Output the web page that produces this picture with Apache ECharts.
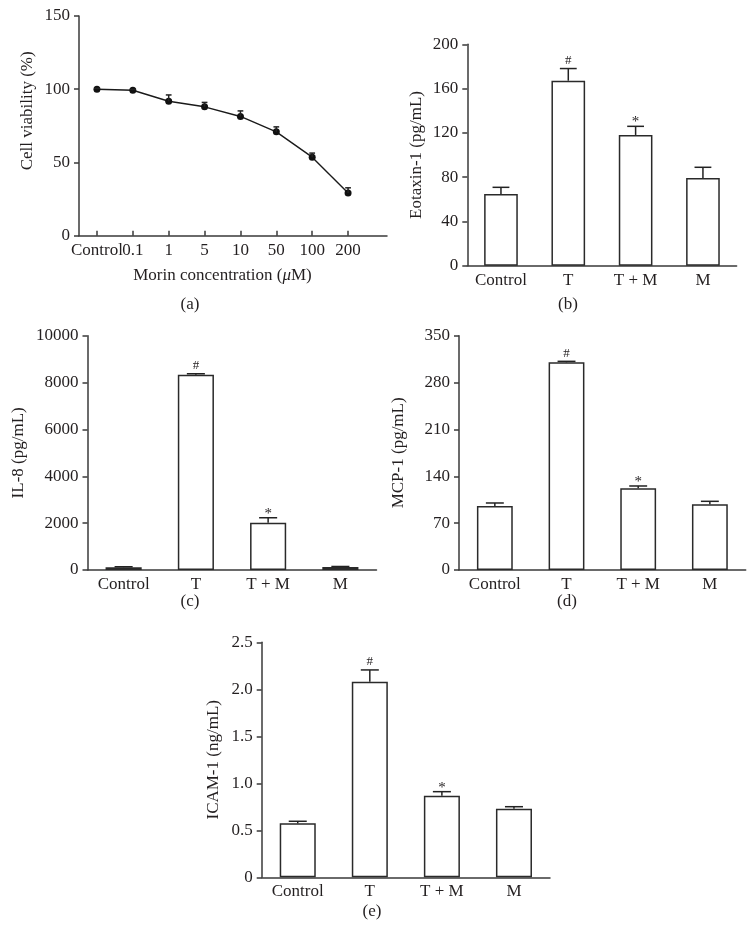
<!DOCTYPE html>
<html>
<head>
<meta charset="utf-8">
<script src="https://cdn.jsdelivr.net/npm/echarts/dist/echarts.min.js"></script>
<style>
html,body{margin:0;padding:0;background:#fff;}
#chart{width:756px;height:937px;}
</style>
</head>
<body>
<div id="chart"></div>
<script>
// ---------- data ----------
const doseLabels = ['Control', '0.1', '1', '5', '10', '50', '100', '200'];
const viability = [100, 99.3, 91.8, 88.0, 81.4, 70.9, 53.6, 29.1];
const viabilityErr = [0.6, 0.6, 4.3, 3.0, 3.8, 3.4, 2.8, 3.6];

const groups = ['Control', 'T', 'T + M', 'M'];
const signif = ['', '#', '*', ''];

const eotaxin = [64.8, 167.1, 118.1, 79.2];
const eotaxinErr = [6.0, 11.0, 7.8, 9.7];

const il8 = [120, 8335, 2020, 130];
const il8Err = [20, 40, 210, 20];

const mcp1 = [95.6, 310.2, 122.0, 98.1];
const mcp1Err = [4.5, 1.5, 3.5, 4.5];

const icam = [0.574, 2.081, 0.868, 0.730];
const icamErr = [0.022, 0.125, 0.043, 0.021];

const ticksA = {min: 0, max: 150, interval: 50};
const ticksB = {min: 0, max: 200, interval: 40};
const ticksC = {min: 0, max: 10000, interval: 2000};
const ticksD = {min: 0, max: 350, interval: 70};
const ticksE = {min: 0, max: 2.5, interval: 0.5};

// ---------- styles ----------
const FONT = '"Liberation Serif", "DejaVu Serif", serif';
const FS = 17;
const TXT = '#231f20';
const AX = '#3a3a3a';

const chart = echarts.init(document.getElementById('chart'), null, {renderer: 'canvas'});

function gridBox(left, top, width, height) {
  return {left, top, width, height, containLabel: false, outerBoundsMode: 'none'};
}

const plainFmt = v => String(v);

function yAxisCfg(gi, ticks, name, gap, fmt, pad) {
  return {
    type: 'value', gridIndex: gi, min: ticks.min, max: ticks.max, interval: ticks.interval,
    name: name, nameLocation: 'middle', nameGap: gap,
    nameTextStyle: {fontFamily: FONT, fontSize: FS, color: TXT, padding: pad || 0},
    axisLine: {show: true, lineStyle: {color: AX, width: 1.5}},
    axisTick: {show: true, inside: false, length: 5, lineStyle: {color: AX, width: 1.5}},
    axisLabel: {fontFamily: FONT, fontSize: FS, color: TXT, margin: 9, formatter: fmt || plainFmt},
    splitLine: {show: false}
  };
}

function xCatAxis(gi, cats, ticks) {
  return {
    type: 'category', gridIndex: gi, data: cats, boundaryGap: true,
    axisLine: {show: true, lineStyle: {color: AX, width: 1.5}},
    axisTick: {show: !!ticks, inside: true, length: 5, alignWithLabel: true, lineStyle: {color: AX, width: 1.5}},
    axisLabel: {fontFamily: FONT, fontSize: FS, color: TXT, margin: 6, interval: 0},
    splitLine: {show: false}
  };
}

function errSeries(xi, yi, means, errs, capFrac, marks) {
  return {
    type: 'custom', xAxisIndex: xi, yAxisIndex: yi, z: 5,
    data: means.map((m, i) => [i, m, errs[i]]),
    renderItem: function (params, api) {
      const i = api.value(0), m = api.value(1), e = api.value(2);
      const base = api.coord([i, m]);
      const top = api.coord([i, m + e]);
      const half = api.size([1, 0])[0] * capFrac / 2;
      const children = [
        {type: 'line', shape: {x1: base[0], y1: base[1], x2: top[0], y2: top[1]},
         style: {stroke: '#222', lineWidth: 1.5}},
        {type: 'line', shape: {x1: top[0] - half, y1: top[1], x2: top[0] + half, y2: top[1]},
         style: {stroke: '#222', lineWidth: 1.5}}
      ];
      const mk = marks ? marks[params.dataIndex] : '';
      if (mk) {
        children.push({type: 'text', style: {
          text: mk, x: top[0], y: top[1] - (mk === '#' ? 8 : 4),
          align: 'center', verticalAlign: 'middle',
          font: (mk === '#' ? '13px ' : '15px ') + FONT, fill: TXT
        }});
      }
      return {type: 'group', children};
    }
  };
}

function barSeries(xi, yi, vals) {
  return {
    type: 'bar', xAxisIndex: xi, yAxisIndex: yi, data: vals, barWidth: '50%',
    itemStyle: {color: '#fff', borderColor: '#2a2a2a', borderWidth: 1.5},
    silent: true, animation: false
  };
}

const icamFmt = v => (v === 0 ? '0' : v.toFixed(1));

const option = {
  animation: false,
  backgroundColor: '#fff',
  textStyle: {fontFamily: FONT},
  grid: [
    gridBox(79, 16, 287, 219.7),     // a
    gridBox(79, 16, 308, 219.7),     // a axis extension
    gridBox(467.3, 44.3, 269.3, 221.4), // b
    gridBox(87.5, 335.7, 289, 234.3),   // c
    gridBox(459, 335.7, 286.7, 234.3),  // d
    gridBox(261.7, 642.3, 288.3, 235)   // e
  ],
  xAxis: [
    Object.assign(xCatAxis(0, doseLabels, true), {
      axisLine: {show: false},
      name: '{n|Morin concentration (}{i|μ}{n|M)}', nameLocation: 'middle', nameGap: 31,
      nameTextStyle: {rich: {
        n: {fontFamily: FONT, fontSize: FS, color: TXT},
        i: {fontFamily: FONT, fontSize: FS, color: TXT, fontStyle: 'italic'}
      }}
    }),
    {type: 'value', gridIndex: 1, min: 0, max: 1,
     axisLine: {show: true, lineStyle: {color: AX, width: 1.5}},
     axisTick: {show: false}, axisLabel: {show: false}, splitLine: {show: false}},
    xCatAxis(2, groups, false),
    xCatAxis(3, groups, false),
    xCatAxis(4, groups, false),
    xCatAxis(5, groups, false)
  ],
  yAxis: [
    yAxisCfg(0, ticksA, 'Cell viability (%)', 43, null, [0, 0, 0, 30]),
    {type: 'value', gridIndex: 1, show: false, min: 0, max: 1},
    yAxisCfg(2, ticksB, 'Eotaxin-1 (pg/mL)', 42),
    yAxisCfg(3, ticksC, 'IL-8 (pg/mL)', 60),
    yAxisCfg(4, ticksD, 'MCP-1 (pg/mL)', 52),
    yAxisCfg(5, ticksE, 'ICAM-1 (ng/mL)', 40, icamFmt)
  ],
  series: [
    {type: 'line', xAxisIndex: 0, yAxisIndex: 0, data: viability,
     symbol: 'circle', symbolSize: 7, showSymbol: true,
     lineStyle: {color: '#1a1a1a', width: 1.4}, itemStyle: {color: '#111'}, z: 4},
    errSeries(0, 0, viability, viabilityErr, 0.16, null),

    barSeries(2, 2, eotaxin),
    errSeries(2, 2, eotaxin, eotaxinErr, 0.25, signif),

    barSeries(3, 3, il8),
    errSeries(3, 3, il8, il8Err, 0.25, signif),

    barSeries(4, 4, mcp1),
    errSeries(4, 4, mcp1, mcp1Err, 0.25, signif),

    barSeries(5, 5, icam),
    errSeries(5, 5, icam, icamErr, 0.25, signif)
  ],
  graphic: [
    {type: 'text', x: 190, y: 305, style: {text: '(a)', align: 'center', verticalAlign: 'middle', font: FS + 'px ' + FONT, fill: TXT}},
    {type: 'text', x: 568, y: 305, style: {text: '(b)', align: 'center', verticalAlign: 'middle', font: FS + 'px ' + FONT, fill: TXT}},
    {type: 'text', x: 190, y: 602, style: {text: '(c)', align: 'center', verticalAlign: 'middle', font: FS + 'px ' + FONT, fill: TXT}},
    {type: 'text', x: 567, y: 602, style: {text: '(d)', align: 'center', verticalAlign: 'middle', font: FS + 'px ' + FONT, fill: TXT}},
    {type: 'text', x: 372, y: 912, style: {text: '(e)', align: 'center', verticalAlign: 'middle', font: FS + 'px ' + FONT, fill: TXT}}
  ]
};

chart.setOption(option);
</script>
</body>
</html>
